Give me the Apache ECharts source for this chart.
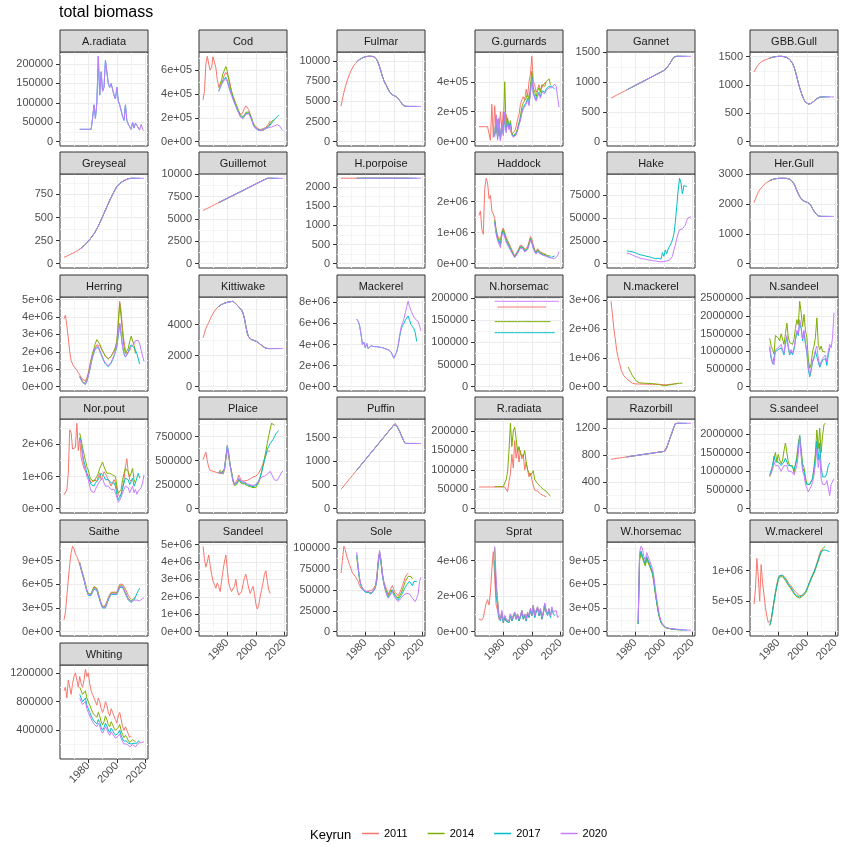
<!DOCTYPE html>
<html>
<head>
<meta charset="utf-8">
<title>total biomass</title>
<script src="https://cdn.jsdelivr.net/npm/echarts@6/dist/echarts.min.js"></script>
<style>
  html, body { margin: 0; padding: 0; background: #ffffff; }
  #chart { width: 841px; height: 847px; }
</style>
</head>
<body>
<div id="chart"></div>
<script>
// ---- Key runs and shared year ticks ----
const RUNS = ['2011', '2014', '2017', '2020'];
const RUN_COLORS = ['#F8766D', '#7CAE00', '#00BFC4', '#C77CFF'];
const YEAR_TICKS = [1980, 2000, 2020];
const YEAR_MINOR = [1970, 1990, 2010];

// ---- Biomass series (2011 run: 1963-2010, 2014: 1974-2013, 2017: 1974-2016, 2020: 1974-2019) ----
const aradiata2020 = [32000,32000,32000,32000,32000,32000,32000,32000,32000,
  60000,95000,60000,100000,220000,120000,180000,130000,140000,210000,
  205000,150000,140000,150000,135000,120000,110000,140000,105000,95000,
  80000,65000,55000,95000,55000,45000,50000,32000,50000,35000,
  48000,42000,40000,30000,45000,32000,28000];

const cod2011 = [350000,420000,650000,715000,650000,600000,620000,710000,700000,620000,
  520000,460000,480000,500000,520000,560000,580000,570000,540000,480000,
  420000,380000,340000,300000,270000,240000,225000,230000,250000,280000,
  300000,295000,270000,230000,190000,160000,140000,125000,115000,105000,
  100000,105000,110000,115000,120000,130000,150000,175000];
const cod2014 = [450000,480000,520000,570000,600000,630000,590000,520000,460000,420000,
  380000,350000,320000,290000,260000,230000,210000,205000,220000,245000,
  255000,250000,235000,200000,160000,130000,115000,105000,98000,92000,
  90000,95000,100000,110000,120000,135000,150000,170000,180000,185000];
const cod2017 = [420000,450000,480000,510000,520000,540000,510000,470000,430000,400000,
  360000,330000,300000,270000,245000,215000,200000,198000,215000,235000,
  245000,240000,225000,190000,150000,125000,112000,104000,98000,95000,
  96000,100000,105000,112000,118000,125000,140000,155000,170000,185000,
  200000,212000,222000];
const cod2020 = [430000,455000,480000,500000,515000,530000,500000,460000,420000,390000,
  355000,325000,295000,265000,240000,210000,195000,193000,210000,230000,
  240000,235000,220000,185000,145000,120000,108000,100000,95000,92000,
  94000,98000,103000,110000,115000,118000,120000,123000,127000,133000,
  138000,143000,150000,128000,105000,93000];

const fulmar = [4400,5300,6100,6800,7400,7900,8400,8800,9150,9450,
  9700,9900,10050,10200,10300,10400,10480,10540,10580,10600,
  10600,10600,10580,10550,10450,10200,9800,9300,8700,8100,
  7600,7200,6900,6500,6200,6000,5800,5700,5650,5550,
  5350,5150,4900,4600,4450,4400,4380,4380,4380,4380,
  4380,4380,4380,4380,4380,4380,4380];

const ggurnards2011 = [100000,100000,100000,100000,100000,100000,100000,100000,
  10000,250000,30000,240000,60000,150000,40000,200000,80000,200000,
  120000,180000,100000,120000,70000,50000,40000,70000,100000,150000,
  180000,250000,280000,300000,280000,350000,300000,400000,450000,570000,
  400000,380000,330000,350000,380000,340000,360000,380000,370000,400000];
const ggurnards2014 = [50000,170000,30000,150000,20000,120000,60000,400000,80000,160000,
  100000,140000,60000,40000,30000,60000,90000,130000,170000,230000,
  260000,250000,290000,320000,280000,370000,470000,360000,330000,300000,
  340000,360000,330000,380000,390000,370000,400000,410000,420000,380000];
const ggurnards2017 = [40000,150000,20000,130000,10000,110000,50000,180000,70000,140000,
  90000,120000,50000,35000,25000,50000,80000,120000,150000,200000,
  230000,220000,260000,290000,250000,330000,430000,330000,300000,280000,
  310000,330000,300000,340000,350000,330000,350000,360000,370000,380000,
  370000,360000,350000];
const ggurnards2020 = [30000,180000,10000,160000,5000,130000,40000,200000,60000,130000,
  80000,110000,45000,30000,20000,45000,75000,110000,140000,190000,
  220000,210000,250000,280000,240000,320000,420000,320000,290000,270000,
  300000,320000,290000,330000,340000,320000,340000,350000,360000,370000,
  360000,370000,385000,370000,360000,230000];

const gannet = [730,742,755,767,780,792,805,817,830,842,
  855,867,880,892,904,917,929,942,954,967,
  979,991,1004,1016,1029,1041,1054,1066,1078,1091,
  1103,1116,1128,1141,1153,1166,1178,1192,1210,1235,
  1265,1300,1340,1380,1415,1430,1430,1430,1430,1430,
  1430,1430,1430,1430,1430,1430,1430];

const gbbGull = [1230,1280,1320,1360,1385,1405,1420,1435,1445,1455,
  1465,1475,1483,1490,1495,1500,1503,1505,1507,1507,
  1505,1500,1495,1485,1470,1450,1420,1380,1320,1240,
  1140,1040,950,870,800,740,700,675,665,665,
  675,695,715,740,760,775,785,790,790,790,
  790,790,790,790,790,790,790];

const greyseal = [70,75,82,90,98,105,112,120,128,137,
  147,158,170,182,195,208,225,243,262,282,
  303,325,350,378,408,440,475,510,545,580,
  615,650,685,718,750,780,808,835,855,868,
  880,890,900,907,915,920,925,925,925,925,
  925,925,925,925,925,925,925];

const guillemot = [5950,6040,6110,6200,6260,6350,6420,6500,6590,6660,
  6750,6820,6910,6990,7060,7150,7220,7320,7390,7470,
  7540,7640,7700,7790,7880,7940,8040,8100,8200,8260,
  8350,8440,8500,8600,8660,8760,8830,8920,8990,9080,
  9160,9240,9320,9400,9480,9550,9550,9550,9550,9550,
  9550,9550,9550,9550,9550,9550,9550];

const hPorpoise = [2230,2230,2230,2230,2230,2230,2230,2230,2230,2230,
  2230,2230,2230,2230,2230,2230,2230,2230,2230,2230,
  2230,2230,2230,2230,2230,2230,2230,2230,2230,2230,
  2230,2230,2230,2230,2230,2230,2230,2230,2230,2230,
  2230,2230,2230,2230,2230,2230,2230,2230,2230,2230,
  2230,2230,2230,2230,2230,2230,2230];

const haddock2011 = [1550000,1700000,1100000,950000,2400000,2750000,2600000,2100000,2200000,1700000,
  1600000,1450000,1100000,900000,950000,750000,1050000,1150000,1000000,850000,
  750000,650000,550000,450000,350000,250000,300000,400000,500000,600000,
  650000,550000,450000,400000,550000,700000,880000,800000,600000,450000,
  380000,480000,430000,380000,350000,330000,320000,300000];
const haddock2014 = [1400000,1050000,850000,900000,650000,1000000,1100000,950000,800000,700000,
  600000,500000,400000,300000,220000,270000,370000,470000,560000,620000,
  520000,420000,370000,500000,650000,820000,760000,560000,420000,350000,
  450000,400000,350000,330000,310000,300000,280000,260000,250000,250000];
const haddock2017 = [1350000,1000000,800000,850000,600000,950000,1050000,900000,750000,650000,
  560000,470000,380000,290000,210000,260000,350000,450000,540000,600000,
  500000,400000,350000,480000,620000,780000,720000,530000,400000,330000,
  420000,380000,330000,300000,280000,270000,250000,230000,210000,200000,
  210000,230000,250000];
const haddock2020 = [1300000,950000,750000,800000,520000,900000,1000000,850000,700000,600000,
  520000,440000,350000,270000,200000,240000,330000,420000,500000,560000,
  470000,380000,330000,450000,600000,750000,680000,500000,380000,310000,
  400000,360000,310000,290000,270000,260000,240000,220000,200000,190000,
  180000,170000,170000,180000,250000,390000];

const hake2017 = [14000,14000,13500,14000,13000,12500,12000,11000,10500,10000,
  9500,9000,9000,8500,8000,8000,7500,7000,6500,6000,
  5500,5500,6000,8000,5000,12000,8000,15000,11000,16000,
  14000,22000,26000,32000,45000,62000,80000,93000,88000,76000,
  85000,84000,84000];
const hake2020 = [11000,11000,11000,10500,9500,9000,8000,6000,7000,6500,
  5500,5000,5500,5000,4500,4500,4000,4000,3500,3500,
  3000,3000,2500,2500,2000,2500,2500,3000,3000,3500,
  4000,5000,8000,15000,20000,27000,33000,37000,38000,38000,
  37000,42000,47000,50000,52000,51000];

const herGull = [2050,2180,2300,2400,2480,2540,2600,2650,2700,2730,
  2760,2790,2810,2830,2845,2855,2862,2866,2868,2870,
  2870,2870,2868,2865,2855,2840,2810,2760,2680,2580,
  2460,2350,2260,2180,2130,2100,2080,2070,2055,2010,
  1940,1850,1770,1700,1640,1600,1590,1590,1590,1590,
  1590,1590,1590,1590,1590,1590,1590];

const herring2011 = [3900000,4100000,3500000,2800000,2000000,1500000,1300000,1150000,1050000,950000,
  800000,700000,550000,420000,320000,350000,500000,800000,1200000,1600000,
  1900000,2100000,2250000,2400000,2450000,2350000,2200000,2050000,1900000,1750000,
  1650000,1600000,1650000,1750000,1900000,2050000,2250000,2600000,3600000,4900000,
  4300000,3300000,2600000,2100000,1900000,2000000,2100000,2200000];
const herring2014 = [600000,450000,300000,180000,200000,380000,700000,1100000,1500000,1900000,
  2200000,2500000,2700000,2650000,2450000,2250000,2050000,1900000,1750000,1650000,
  1600000,1650000,1750000,1900000,2050000,2250000,2600000,3700000,4800000,4000000,
  3000000,2300000,1900000,1900000,2200000,2600000,2900000,2800000,2400000,1900000];
const herring2017 = [550000,400000,250000,150000,130000,300000,600000,950000,1350000,1700000,
  1950000,2200000,2300000,2250000,2050000,1850000,1650000,1450000,1300000,1200000,
  1150000,1200000,1350000,1550000,1750000,2000000,2300000,2900000,3600000,3000000,
  2300000,1900000,1700000,1750000,2000000,2250000,2400000,2350000,2250000,2100000,
  1900000,1600000,1300000];
const herring2020 = [580000,420000,270000,160000,140000,320000,620000,980000,1380000,1750000,
  2000000,2250000,2350000,2300000,2100000,1900000,1700000,1500000,1350000,1250000,
  1200000,1250000,1400000,1600000,1800000,2050000,2350000,3000000,3650000,3000000,
  2300000,1850000,1700000,1750000,1950000,2150000,2300000,2350000,2450000,2650000,
  2700000,2650000,2450000,2100000,1750000,1450000];

const kittiwake = [3150,3450,3750,3950,4150,4350,4550,4720,4870,5000,
  5100,5180,5250,5300,5350,5390,5420,5440,5460,5480,
  5500,5510,5480,5350,5250,5150,5050,4950,4750,4400,
  3900,3450,3200,3080,3040,3000,2970,2950,2900,2820,
  2740,2670,2600,2530,2480,2460,2460,2460,2460,2460,
  2460,2460,2460,2460,2460,2460,2460];

const mackerel2017 = [6400000,6200000,5800000,5000000,4000000,4200000,3700000,4100000,3600000,3500000,
  3900000,3850000,3800000,3850000,3800000,3850000,3750000,3700000,3700000,3650000,
  3600000,3550000,3500000,3400000,3300000,3000000,2700000,2800000,3300000,3900000,
  4700000,5400000,5800000,6000000,6300000,6500000,6700000,6300000,5900000,5700000,
  5500000,5100000,4300000];
const mackerel2020 = [6400000,6200000,5800000,5000000,4000000,4200000,3700000,4100000,3600000,3500000,
  3900000,3850000,3800000,3850000,3800000,3850000,3750000,3700000,3700000,3650000,
  3600000,3550000,3500000,3400000,3300000,3000000,2700000,2800000,3300000,3900000,
  4800000,5600000,6000000,6400000,7000000,7600000,8100000,7600000,7200000,6900000,
  6600000,6400000,6300000,6200000,6100000,5300000];

// N.horsemac: 2011 run covers 1976-2010
const nHorsemac2011 = [180000,180000,180000,180000,180000,180000,180000,180000,180000,180000,
  180000,180000,180000,180000,180000,180000,180000,180000,180000,180000,
  180000,180000,180000,180000,180000,180000,180000,180000,180000,180000,
  180000,180000,180000,180000,180000];
const nHorsemac2014 = [147000,147000,147000,147000,147000,147000,147000,147000,147000,147000,
  147000,147000,147000,147000,147000,147000,147000,147000,147000,147000,
  147000,147000,147000,147000,147000,147000,147000,147000,147000,147000,
  147000,147000,147000,147000,147000,147000,147000,147000,147000,147000];
const nHorsemac2017 = [122000,122000,122000,122000,122000,122000,122000,122000,122000,122000,
  122000,122000,122000,122000,122000,122000,122000,122000,122000,122000,
  122000,122000,122000,122000,122000,122000,122000,122000,122000,122000,
  122000,122000,122000,122000,122000,122000,122000,122000,122000,122000,
  122000,122000,122000];
const nHorsemac2020 = [193000,193000,193000,193000,193000,193000,193000,193000,193000,193000,
  193000,193000,193000,193000,193000,193000,193000,193000,193000,193000,
  193000,193000,193000,193000,193000,193000,193000,193000,193000,193000,
  193000,193000,193000,193000,193000,193000,193000,193000,193000,193000,
  193000,193000,193000,193000,193000,193000];

// N.mackerel: 2014 run starts in 1975
const nMackerel2011 = [2950000,2500000,2000000,1650000,1250000,1000000,800000,600000,480000,380000,
  320000,270000,230000,190000,150000,120000,110000,100000,95000,95000,
  95000,92000,90000,90000,88000,88000,86000,85000,85000,84000,
  83000,82000,80000,80000,78000,76000,75000,72000,70000,72000,
  75000,80000,85000,90000,95000,100000,105000,110000];
const nMackerel2014 = [680000,580000,480000,380000,330000,250000,180000,150000,140000,130000,
  125000,120000,120000,115000,115000,110000,110000,105000,100000,95000,
  90000,85000,80000,60000,40000,30000,35000,45000,55000,65000,
  70000,80000,90000,100000,110000,115000,120000,130000,125000];

const nSandeel2014 = [1370000,1150000,1050000,920000,1450000,1400000,1380000,1300000,1500000,1350000,
  1200000,1500000,1800000,1400000,1250000,1300000,1200000,1350000,1650000,1900000,
  1750000,2420000,2100000,1700000,2050000,1600000,1400000,800000,520000,650000,
  1000000,1150000,1400000,1950000,1200000,1050000,1150000,1000000,1050000,980000];
const nSandeel2017 = [1100000,800000,650000,600000,1000000,950000,1050000,1000000,1100000,1000000,
  900000,1200000,1400000,1100000,900000,1000000,900000,1050000,1300000,1550000,
  1450000,1800000,1650000,1300000,1550000,1200000,950000,500000,280000,450000,
  700000,800000,1000000,1050000,700000,550000,650000,750000,700000,800000,
  600000,900000,1100000];
const nSandeel2020 = [1150000,850000,700000,620000,1050000,1000000,1100000,1050000,1200000,1050000,
  950000,1250000,1450000,1150000,950000,1050000,950000,1100000,1350000,1600000,
  1500000,1900000,1700000,1350000,1600000,1250000,1000000,550000,350000,500000,
  750000,850000,1050000,1150000,800000,600000,700000,800000,750000,900000,
  700000,1000000,1200000,1100000,1400000,2100000];

const norPout2011 = [430000,480000,580000,1100000,2450000,2350000,1850000,1850000,1900000,2650000,
  1800000,2200000,1600000,1400000,1250000,1300000,1100000,1000000,900000,800000,
  750000,900000,950000,850000,1000000,1100000,900000,1000000,1150000,1100000,
  1000000,900000,800000,700000,750000,900000,800000,600000,450000,380000,
  450000,600000,900000,1300000,1550000,1100000,900000,850000];
const norPout2014 = [2350000,2300000,1900000,1700000,1500000,1300000,1200000,1000000,900000,950000,
  850000,900000,1000000,1100000,1250000,1350000,1450000,1300000,1200000,1100000,
  1150000,1100000,1100000,1050000,1100000,1000000,700000,480000,500000,600000,
  900000,1100000,1250000,1300000,1150000,1000000,1100000,1250000,900000,800000];
const norPout2017 = [2200000,2100000,1700000,1450000,1300000,1100000,1000000,850000,750000,800000,
  700000,800000,850000,900000,1000000,1100000,1150000,1000000,900000,850000,
  900000,850000,800000,750000,800000,700000,450000,280000,350000,450000,
  650000,800000,950000,1000000,900000,750000,850000,950000,700000,800000,
  950000,1100000,950000];
const norPout2020 = [2150000,2050000,1600000,1350000,1200000,1000000,900000,700000,550000,600000,
  500000,600000,700000,750000,850000,900000,950000,800000,700000,650000,
  700000,650000,600000,550000,600000,500000,350000,200000,250000,350000,
  500000,600000,700000,750000,650000,500000,600000,700000,500000,600000,
  450000,550000,500000,650000,800000,1050000];

const plaice2011 = [510000,550000,590000,500000,430000,400000,395000,390000,385000,380000,
  375000,370000,380000,375000,360000,420000,530000,620000,540000,450000,
  380000,300000,260000,270000,300000,350000,320000,290000,280000,290000,
  300000,295000,300000,310000,320000,330000,330000,340000,350000,370000,
  400000,430000,470000,520000,560000,600000,620000,600000];
const plaice2014 = [370000,400000,380000,360000,400000,520000,640000,560000,450000,380000,
  300000,240000,230000,260000,300000,280000,260000,250000,260000,250000,
  240000,235000,230000,225000,220000,215000,220000,240000,270000,320000,
  380000,450000,520000,600000,680000,760000,830000,890000,880000,870000];
const plaice2017 = [380000,390000,370000,350000,410000,540000,660000,580000,460000,370000,
  290000,250000,240000,270000,310000,290000,270000,260000,270000,260000,
  250000,245000,240000,235000,230000,230000,240000,260000,290000,330000,
  380000,440000,500000,560000,620000,650000,680000,700000,720000,750000,
  780000,800000,815000];
const plaice2020 = [375000,385000,365000,345000,400000,530000,650000,570000,450000,360000,
  280000,250000,250000,280000,320000,300000,280000,270000,280000,270000,
  260000,255000,250000,245000,240000,245000,255000,270000,290000,310000,
  330000,340000,340000,345000,360000,380000,390000,395000,330000,300000,
  290000,295000,300000,350000,380000,390000];

const puffin = [410,445,480,515,555,590,630,665,700,740,
  775,810,850,885,920,960,995,1030,1070,1105,
  1140,1180,1215,1250,1290,1325,1360,1400,1435,1470,
  1510,1545,1580,1620,1655,1690,1730,1765,1800,1750,
  1690,1630,1560,1490,1420,1375,1375,1375,1375,1375,
  1375,1375,1375,1375,1375,1375,1375];

const rRadiata2011 = [56000,56000,56000,56000,56000,56000,56000,56000,56000,56000,
  56000,56000,56000,56000,56000,56000,56000,56000,56000,
  60000,44000,70000,90000,140000,105000,175000,130000,158000,120000,
  150000,128000,141000,100000,120000,124000,82000,92000,75000,60000,
  48000,52000,45000,40000,38000,36000,34000,32000,31000];
const rRadiata2014 = [57000,57000,57000,57000,57000,57000,57000,57000,
  75000,95000,150000,220000,160000,200000,210000,180000,145000,160000,
  140000,145000,135000,150000,120000,100000,95000,85000,82000,98000,
  75000,70000,65000,60000,57000,55000,50000,48000,45000,40000,36000,33000];

const razorbill = [735,738,742,745,748,751,755,757,761,764,
  767,770,774,776,780,783,786,789,792,795,
  798,802,805,808,811,814,817,820,823,826,
  830,833,836,839,842,845,848,851,855,910,
  970,1030,1090,1150,1210,1265,1270,1270,1270,1270,
  1270,1270,1270,1270,1270,1270,1270];

const sSandeel2014 = [850000,950000,1100000,1350000,1500000,1250000,1450000,1300000,1200000,1300000,
  1550000,1750000,1500000,1250000,1150000,1200000,1150000,950000,1000000,1400000,
  1750000,1950000,1600000,1200000,1100000,850000,650000,600000,650000,700000,
  800000,1100000,1500000,2100000,1600000,2150000,1500000,1950000,2250000,2280000];
const sSandeel2017 = [900000,950000,1150000,1400000,1250000,1200000,1250000,1200000,1150000,1150000,
  1250000,1350000,1300000,1150000,1100000,1150000,1100000,1050000,1100000,1300000,
  1600000,1950000,1500000,1100000,1000000,750000,650000,600000,650000,700000,
  800000,1050000,1350000,1800000,1300000,1750000,1100000,850000,800000,850000,
  950000,1150000,1220000];
const sSandeel2020 = [880000,900000,1050000,1250000,1150000,1100000,1150000,1100000,1000000,1050000,
  1150000,1200000,1150000,1000000,950000,1000000,950000,900000,950000,1150000,
  1450000,1900000,1400000,1000000,900000,650000,550000,450000,500000,600000,
  700000,900000,1200000,1600000,1100000,1450000,800000,650000,600000,650000,
  750000,550000,350000,650000,700000,800000];

const saithe2011 = [150000,250000,450000,650000,850000,1000000,1080000,1050000,980000,950000,
  900000,850000,780000,720000,650000,580000,520000,480000,450000,470000,
  520000,560000,580000,540000,480000,420000,360000,320000,300000,330000,
  380000,430000,470000,500000,520000,500000,480000,500000,550000,600000,
  620000,600000,570000,540000,500000,460000,430000,410000];
const saithe2014 = [880000,800000,740000,680000,600000,530000,480000,460000,480000,530000,
  570000,590000,550000,490000,420000,350000,310000,290000,320000,370000,
  420000,460000,490000,510000,490000,470000,490000,530000,580000,600000,
  580000,540000,500000,460000,420000,400000,390000,400000,420000,440000];
const saithe2017 = [860000,790000,720000,660000,580000,510000,460000,440000,460000,500000,
  540000,560000,520000,460000,400000,340000,300000,280000,300000,350000,
  400000,440000,470000,490000,470000,450000,470000,510000,560000,580000,
  560000,520000,480000,440000,400000,380000,370000,380000,400000,440000,
  480000,520000,550000];
const saithe2020 = [870000,800000,730000,670000,590000,520000,470000,450000,470000,510000,
  550000,570000,530000,470000,410000,350000,310000,290000,310000,360000,
  410000,450000,480000,500000,480000,460000,480000,520000,570000,590000,
  570000,530000,490000,450000,410000,390000,380000,390000,400000,410000,
  400000,380000,390000,410000,420000,430000];

const sandeel2011 = [4900000,4200000,3700000,4000000,4400000,3800000,3300000,2900000,2700000,2500000,
  2800000,2600000,2300000,2900000,3500000,4000000,4400000,3600000,2800000,2500000,
  2300000,2200000,2600000,3000000,2400000,2100000,2000000,2300000,2700000,3100000,
  3300000,2900000,2500000,2200000,2300000,2600000,2200000,1600000,1300000,1500000,
  2000000,2400000,2800000,3300000,3500000,2900000,2400000,2200000];

const sole2011 = [70000,85000,102000,98000,90000,85000,80000,75000,70000,68000,
  66000,64000,60000,55000,52000,50000,50000,49000,48000,50000,
  49000,48000,50000,52000,55000,65000,85000,95000,85000,70000,
  60000,55000,50000,45000,47000,52000,55000,50000,47000,45000,
  43000,45000,50000,55000,60000,65000,68000,70000];
const sole2014 = [90000,75000,62000,55000,52000,50000,48000,47000,48000,47000,
  46000,48000,50000,53000,62000,82000,93000,82000,68000,58000,
  52000,47000,43000,44000,50000,52000,47000,44000,42000,40000,
  42000,46000,50000,55000,60000,63000,66000,68000,66000,63000];
const sole2017 = [92000,76000,63000,55000,51000,49000,47000,46000,47000,46000,
  45000,47000,49000,52000,60000,80000,95000,83000,67000,57000,
  50000,45000,41000,42000,47000,50000,45000,42000,40000,38000,
  40000,43000,46000,50000,53000,56000,58000,60000,58000,55000,
  60000,62000,60000];
const sole2020 = [95000,78000,64000,56000,52000,50000,48000,47000,48000,47000,
  46000,48000,50000,53000,62000,82000,97000,85000,68000,58000,
  50000,44000,40000,41000,45000,48000,43000,40000,38000,36000,
  38000,40000,42000,44000,45000,46000,47000,45000,43000,40000,
  38000,36000,40000,45000,60000,65000];

const sprat2011 = [700000,600000,650000,800000,1200000,1600000,1800000,1500000,2200000,3500000,
  4500000,3000000,1500000,1200000,700000,600000,900000,500000,800000,600000,
  700000,500000,900000,600000,800000,1000000,700000,900000,600000,800000,
  1100000,700000,900000,600000,1000000,800000,1200000,900000,1400000,800000,
  1100000,1300000,900000,1200000,700000,1000000,1400000,1100000];
const sprat2014 = [4700000,2500000,1800000,900000,700000,1100000,600000,900000,700000,800000,
  600000,1000000,700000,900000,1100000,800000,1000000,700000,900000,1200000,
  800000,1000000,700000,1100000,900000,1300000,1000000,1500000,900000,1200000,
  1400000,1000000,1300000,800000,1100000,1600000,1200000,1000000,1300000,900000];
const sprat2017 = [4000000,2000000,1500000,800000,600000,1000000,500000,800000,600000,700000,
  500000,900000,600000,800000,1000000,700000,900000,600000,800000,1100000,
  700000,900000,600000,1000000,800000,1200000,900000,1400000,800000,1100000,
  1300000,900000,1200000,700000,1000000,1500000,1100000,900000,1200000,800000,
  1300000,1000000,900000];
const sprat2020 = [4800000,3000000,1700000,900000,700000,1200000,600000,900000,700000,800000,
  600000,1000000,700000,900000,1100000,700000,1000000,700000,900000,1200000,
  800000,1000000,700000,1100000,900000,1300000,1000000,1500000,900000,1200000,
  1400000,1000000,1300000,800000,1100000,1600000,1200000,1000000,1300000,900000,
  1400000,1100000,1000000,1200000,800000,900000];

// W.horsemac: every run starts in 1982
const wHorsemac2011 = [100000,950000,1000000,950000,900000,850000,940000,900000,850000,800000,
  750000,640000,500000,380000,260000,180000,120000,90000,70000,55000,
  48000,44000,40000,37000,35000,33000,30000,28000,27000];
const wHorsemac2014 = [100000,900000,980000,930000,880000,830000,920000,870000,830000,780000,
  730000,620000,480000,360000,250000,170000,115000,85000,65000,52000,
  45000,42000,38000,35000,32000,30000,28000,26000,25000,24000,23000,22000];
const wHorsemac2017 = [100000,950000,1020000,960000,900000,860000,950000,900000,860000,800000,
  760000,650000,500000,380000,270000,180000,120000,90000,70000,55000,
  48000,44000,40000,37000,34000,32000,30000,28000,26000,25000,
  24000,23000,22000,21000,20000];
const wHorsemac2020 = [120000,1000000,1080000,1050000,950000,900000,1000000,950000,900000,850000,
  800000,700000,550000,420000,300000,200000,140000,100000,75000,60000,
  50000,45000,42000,40000,38000,36000,34000,32000,30000,28000,
  26000,25000,24000,23000,22000,21000,20000,20000];

const wMackerel2011 = [450000,700000,1200000,900000,500000,1100000,800000,600000,400000,250000,
  150000,120000,200000,350000,500000,650000,780000,880000,920000,950000,
  930000,900000,880000,850000,800000,780000,750000,720000,680000,650000,
  630000,600000,590000,580000,600000,620000,650000,700000,760000,820000,
  880000,930000,980000,1050000,1120000,1200000,1280000,1340000];
const wMackerel2014 = [100000,180000,330000,480000,620000,740000,850000,900000,920000,900000,
  870000,840000,800000,760000,730000,700000,660000,620000,590000,570000,
  560000,550000,560000,580000,600000,630000,680000,740000,800000,860000,
  910000,960000,1020000,1090000,1160000,1230000,1300000,1360000,1390000,1400000];
const wMackerel2017 = [110000,190000,340000,500000,640000,760000,870000,920000,940000,920000,
  890000,860000,820000,780000,750000,720000,680000,640000,610000,590000,
  580000,570000,580000,600000,620000,650000,700000,760000,820000,880000,
  930000,980000,1040000,1110000,1180000,1250000,1310000,1330000,1340000,1340000,
  1330000,1320000,1310000];

const whiting2011 = [950000,1000000,850000,1100000,1000000,900000,1050000,1150000,1200000,1100000,
  1000000,1150000,1050000,1000000,1100000,1250000,1150000,1200000,1050000,950000,
  900000,850000,800000,750000,850000,800000,700000,650000,700000,800000,
  750000,650000,600000,700000,650000,600000,550000,500000,600000,650000,
  550000,450000,400000,450000,400000,350000,300000,320000];
const whiting2014 = [1000000,950000,900000,880000,950000,850000,800000,750000,700000,650000,
  620000,600000,580000,650000,600000,520000,480000,520000,600000,550000,
  480000,450000,520000,480000,430000,400000,380000,440000,480000,400000,
  340000,300000,330000,300000,260000,230000,250000,270000,260000,240000];
const whiting2017 = [900000,850000,800000,780000,850000,750000,700000,650000,600000,560000,
  530000,510000,490000,550000,510000,440000,400000,440000,500000,460000,
  400000,370000,430000,400000,360000,330000,310000,360000,400000,330000,
  280000,250000,270000,250000,220000,200000,210000,230000,220000,200000,
  220000,250000,240000];
const whiting2020 = [850000,800000,760000,740000,800000,700000,650000,600000,560000,520000,
  490000,470000,450000,500000,460000,400000,360000,400000,450000,420000,
  360000,330000,380000,350000,320000,290000,270000,320000,350000,290000,
  240000,210000,230000,210000,190000,170000,180000,200000,190000,170000,
  190000,220000,210000,230000,250000,240000];

// ---- Facet definitions: [run, first year, values]; step = y tick spacing ----
function everyRun(v) {
  // one series per key run, cut to that run's years (v covers 1963-2019)
  return [['2011', 1963, v.slice(0, 48)], ['2014', 1974, v.slice(11, 51)],
          ['2017', 1974, v.slice(11, 54)], ['2020', 1974, v.slice(11)]];
}
const facets = [
  { name: 'A.radiata', step: 50000, runs: [['2017', 1974, aradiata2020.slice(0, 43)], ['2020', 1974, aradiata2020]] },
  { name: 'Cod', step: 200000, sci: true, runs: [['2011', 1963, cod2011], ['2014', 1974, cod2014], ['2017', 1974, cod2017], ['2020', 1974, cod2020]] },
  { name: 'Fulmar', step: 2500, runs: everyRun(fulmar) },
  { name: 'G.gurnards', step: 200000, sci: true, runs: [['2011', 1963, ggurnards2011], ['2014', 1974, ggurnards2014], ['2017', 1974, ggurnards2017], ['2020', 1974, ggurnards2020]] },
  { name: 'Gannet', step: 500, runs: everyRun(gannet) },
  { name: 'GBB.Gull', step: 500, runs: everyRun(gbbGull) },
  { name: 'Greyseal', step: 250, runs: everyRun(greyseal) },
  { name: 'Guillemot', step: 2500, runs: everyRun(guillemot) },
  { name: 'H.porpoise', step: 500, runs: everyRun(hPorpoise) },
  { name: 'Haddock', step: 1000000, sci: true, runs: [['2011', 1963, haddock2011], ['2014', 1974, haddock2014], ['2017', 1974, haddock2017], ['2020', 1974, haddock2020]] },
  { name: 'Hake', step: 25000, runs: [['2017', 1974, hake2017], ['2020', 1974, hake2020]] },
  { name: 'Her.Gull', step: 1000, runs: everyRun(herGull) },
  { name: 'Herring', step: 1000000, sci: true, runs: [['2011', 1963, herring2011], ['2014', 1974, herring2014], ['2017', 1974, herring2017], ['2020', 1974, herring2020]] },
  { name: 'Kittiwake', step: 2000, runs: everyRun(kittiwake) },
  { name: 'Mackerel', step: 2000000, sci: true, runs: [['2017', 1974, mackerel2017], ['2020', 1974, mackerel2020]] },
  { name: 'N.horsemac', step: 50000, runs: [['2011', 1976, nHorsemac2011], ['2014', 1974, nHorsemac2014], ['2017', 1974, nHorsemac2017], ['2020', 1974, nHorsemac2020]] },
  { name: 'N.mackerel', step: 1000000, sci: true, runs: [['2011', 1963, nMackerel2011], ['2014', 1975, nMackerel2014]] },
  { name: 'N.sandeel', step: 500000, runs: [['2014', 1974, nSandeel2014], ['2017', 1974, nSandeel2017], ['2020', 1974, nSandeel2020]] },
  { name: 'Nor.pout', step: 1000000, sci: true, runs: [['2011', 1963, norPout2011], ['2014', 1974, norPout2014], ['2017', 1974, norPout2017], ['2020', 1974, norPout2020]] },
  { name: 'Plaice', step: 250000, runs: [['2011', 1963, plaice2011], ['2014', 1974, plaice2014], ['2017', 1974, plaice2017], ['2020', 1974, plaice2020]] },
  { name: 'Puffin', step: 500, runs: everyRun(puffin) },
  { name: 'R.radiata', step: 50000, runs: [['2011', 1963, rRadiata2011], ['2014', 1974, rRadiata2014]] },
  { name: 'Razorbill', step: 400, runs: everyRun(razorbill) },
  { name: 'S.sandeel', step: 500000, runs: [['2014', 1974, sSandeel2014], ['2017', 1974, sSandeel2017], ['2020', 1974, sSandeel2020]] },
  { name: 'Saithe', step: 300000, sci: true, runs: [['2011', 1963, saithe2011], ['2014', 1974, saithe2014], ['2017', 1974, saithe2017], ['2020', 1974, saithe2020]] },
  { name: 'Sandeel', step: 1000000, sci: true, runs: [['2011', 1963, sandeel2011]] },
  { name: 'Sole', step: 25000, runs: [['2011', 1963, sole2011], ['2014', 1974, sole2014], ['2017', 1974, sole2017], ['2020', 1974, sole2020]] },
  { name: 'Sprat', step: 2000000, sci: true, runs: [['2011', 1963, sprat2011], ['2014', 1974, sprat2014], ['2017', 1974, sprat2017], ['2020', 1974, sprat2020]] },
  { name: 'W.horsemac', step: 300000, sci: true, runs: [['2011', 1982, wHorsemac2011], ['2014', 1982, wHorsemac2014], ['2017', 1982, wHorsemac2017], ['2020', 1982, wHorsemac2020]] },
  { name: 'W.mackerel', step: 500000, sci: true, runs: [['2011', 1963, wMackerel2011], ['2014', 1974, wMackerel2014], ['2017', 1974, wMackerel2017]] },
  { name: 'Whiting', step: 400000, yLow: 60000, runs: [['2011', 1963, whiting2011], ['2014', 1974, whiting2014], ['2017', 1974, whiting2017], ['2020', 1974, whiting2020]] }
];

// ---- Layout ----
const FONT = '"Liberation Sans", Arial, Helvetica, sans-serif';
const COL_LEFT = [60, 199, 337, 475, 607, 750];
const PANEL_W = 88, PANEL_H = 94, STRIP_H = 22;
const ROW0 = 29.5, ROW_PITCH = 122.6;
const X_MIN = 1960.2, X_MAX = 2021.8;
const MAJOR_GRID = '#EBEBEB', MINOR_GRID = '#F4F4F4';

function sciLabel(v) {
  if (v === 0) return '0e+00';
  const e = Math.floor(Math.log10(Math.abs(v)) + 1e-9);
  const m = Math.round(v / Math.pow(10, e) * 100) / 100;
  return m + 'e' + (e < 0 ? '-' : '+') + String(Math.abs(e)).padStart(2, '0');
}
function plainLabel(v) { return String(Math.round(v)); }

const grids = [], xAxes = [], yAxes = [], series = [], graphics = [];

facets.forEach(function (f, i) {
  const col = i % 6, row = Math.floor(i / 6);
  const left = COL_LEFT[col];
  const stripTop = Math.round(ROW0 + row * ROW_PITCH);
  const top = stripTop + STRIP_H;
  const isBottom = i + 6 >= facets.length;

  grids.push({
    left: left, top: top, width: PANEL_W, height: PANEL_H,
    show: true, backgroundColor: '#ffffff', borderColor: '#333333', borderWidth: 1,
    containLabel: false, outerBoundsMode: 'none'
  });

  // y range: data range (with zero or the given floor), padded by 5% on both ends
  let dMin = Infinity, dMax = -Infinity;
  f.runs.forEach(function (r) { r[2].forEach(function (v) { dMin = Math.min(dMin, v); dMax = Math.max(dMax, v); }); });
  const lo0 = (f.yLow !== undefined) ? Math.min(f.yLow, dMin) : Math.min(0, dMin);
  const pad = 0.05 * (dMax - lo0);
  const lo = lo0 - pad, hi = dMax + pad;
  const majors = [], minors = [];
  for (let k = Math.ceil(lo / f.step); k * f.step <= hi; k++) majors.push(k * f.step);
  for (let k = Math.ceil(lo / f.step - 0.5); (k + 0.5) * f.step <= hi; k++) minors.push((k + 0.5) * f.step);

  const xMain = {
    type: 'value', gridIndex: i, min: X_MIN, max: X_MAX, position: 'bottom', offset: 0,
    axisLine: { show: false },
    axisTick: { show: isBottom, length: 4, customValues: YEAR_TICKS, lineStyle: { color: '#333333', width: 1 } },
    axisLabel: { show: isBottom, customValues: YEAR_TICKS, rotate: 45, margin: 5, fontSize: 11,
                 color: '#4D4D4D', fontFamily: FONT, hideOverlap: false, formatter: function (v) { return String(v); } },
    splitLine: { show: true, lineStyle: { color: MAJOR_GRID, width: 1 } }
  };
  const xMinor = {
    type: 'value', gridIndex: i, min: X_MIN, max: X_MAX, position: 'bottom', offset: 0,
    axisLine: { show: false },
    axisTick: { show: false, customValues: YEAR_MINOR },
    axisLabel: { show: false, customValues: YEAR_MINOR },
    splitLine: { show: true, lineStyle: { color: MINOR_GRID, width: 1 } }
  };
  const yMain = {
    type: 'value', gridIndex: i, min: lo, max: hi, position: 'left', offset: 0,
    axisLine: { show: false },
    axisTick: { show: true, length: 4, customValues: majors, lineStyle: { color: '#333333', width: 1 } },
    axisLabel: { show: true, customValues: majors, margin: 7, fontSize: 11, color: '#4D4D4D',
                 fontFamily: FONT, hideOverlap: false, formatter: f.sci ? sciLabel : plainLabel },
    splitLine: { show: true, lineStyle: { color: MAJOR_GRID, width: 1 } }
  };
  const yMinor = {
    type: 'value', gridIndex: i, min: lo, max: hi, position: 'left', offset: 0,
    axisLine: { show: false },
    axisTick: { show: false, customValues: minors },
    axisLabel: { show: false, customValues: minors },
    splitLine: { show: true, lineStyle: { color: MINOR_GRID, width: 1 } }
  };
  // minor grid first so the major grid sits on top of it
  xAxes.push(xMinor, xMain);
  yAxes.push(yMinor, yMain);
  const xIdx = 2 * i + 1, yIdx = 2 * i + 1;

  // runs drawn in key-run order so the latest run lies on top
  RUNS.forEach(function (run, ri) {
    f.runs.filter(function (r) { return r[0] === run; }).forEach(function (r) {
      const start = r[1];
      series.push({
        type: 'line', name: run, xAxisIndex: xIdx, yAxisIndex: yIdx,
        data: r[2].map(function (v, k) { return [start + k, v]; }),
        showSymbol: false, symbol: 'none', silent: true, animation: false,
        color: RUN_COLORS[ri], itemStyle: { color: RUN_COLORS[ri] },
        lineStyle: { color: RUN_COLORS[ri], width: 1 }, z: 2 + ri
      });
    });
  });

  // facet strip
  graphics.push({
    type: 'rect', silent: true, z: 10,
    shape: { x: left, y: stripTop, width: PANEL_W, height: STRIP_H },
    style: { fill: '#D9D9D9', stroke: '#333333', lineWidth: 1 }
  });
  graphics.push({
    type: 'text', silent: true, z: 11, x: left + PANEL_W / 2, y: stripTop + STRIP_H / 2 + 0.5,
    style: { text: f.name, fill: '#1A1A1A', font: '11px ' + FONT,
             textAlign: 'center', textVerticalAlign: 'middle', align: 'center', verticalAlign: 'middle' }
  });
});

// legend title
graphics.push({
  type: 'text', silent: true, x: 310, y: 835,
  style: { text: 'Keyrun', fill: '#000000', font: '13px ' + FONT,
           textAlign: 'left', textVerticalAlign: 'middle', align: 'left', verticalAlign: 'middle' }
});

const chart = echarts.init(document.getElementById('chart'), null, { renderer: 'canvas', width: 841, height: 847 });
chart.setOption({
  animation: false,
  backgroundColor: '#ffffff',
  textStyle: { fontFamily: FONT },
  title: {
    text: 'total biomass', left: 59, top: 5, padding: 0,
    textStyle: { fontSize: 16, fontWeight: 'normal', color: '#000000', fontFamily: FONT }
  },
  legend: {
    data: RUNS, left: 362, top: 828, orient: 'horizontal',
    icon: 'rect', itemWidth: 17, itemHeight: 1.5, itemGap: 20, selectedMode: false,
    padding: 0, textStyle: { fontSize: 11, color: '#000000', fontFamily: FONT }
  },
  grid: grids,
  xAxis: xAxes,
  yAxis: yAxes,
  series: series,
  graphic: { elements: graphics }
});
</script>
</body>
</html>
